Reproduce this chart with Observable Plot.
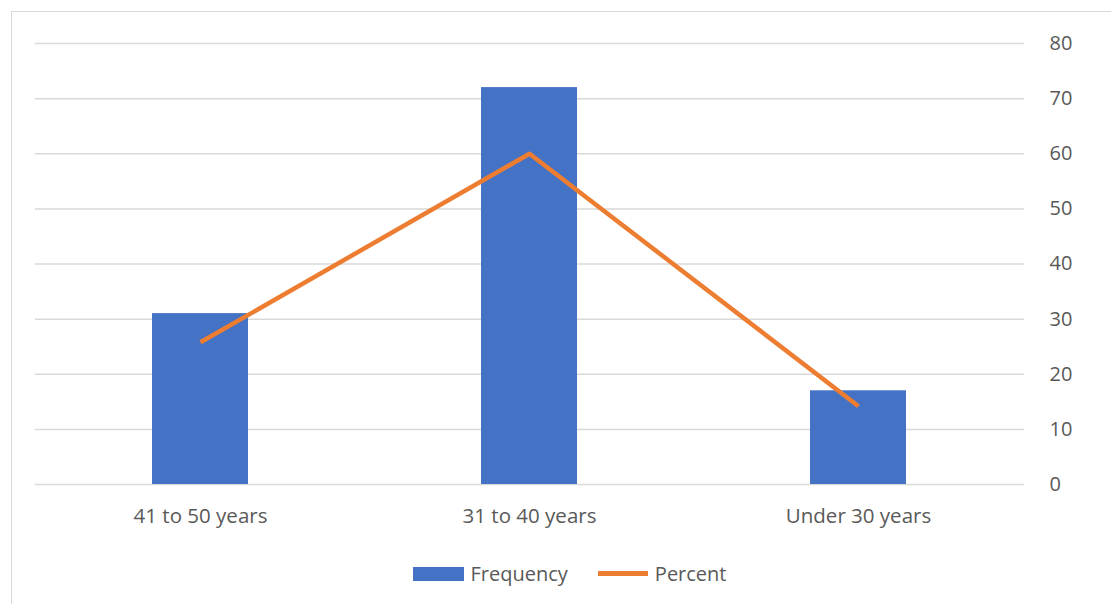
<!DOCTYPE html>
<html>
<head>
<meta charset="utf-8">
<script src="https://cdn.jsdelivr.net/npm/d3@7"></script>
<script src="https://cdn.jsdelivr.net/npm/@observablehq/plot@0.6"></script>
<style>
  html, body { margin: 0; padding: 0; background: #fff; }
  #wrap { position: relative; width: 1111px; height: 604px; overflow: hidden; font-family: "Open Sans", sans-serif; }
  #frame { position: absolute; left: 11px; top: 11px; width: 1110px; height: 620px; border: 1.5px solid #d9d9d9; box-sizing: border-box; }
  #chart { position: absolute; left: 0; top: 0; }
  #legend { position: absolute; top: 560px; left: 14px; width: 1111px; display: flex; justify-content: center; font-size: 20px; color: #595959; }
  .item { display: flex; align-items: center; margin: 0 15px; }
  .sw-bar { width: 51px; height: 14px; background: #4472C4; margin-right: 7px; }
  .sw-line { width: 50px; height: 5px; background: #ED7D31; margin-right: 7px; }
</style>
</head>
<body>
<div id="wrap">
  <div id="frame"></div>
  <div id="chart"></div>
  <div id="legend"></div>
</div>
<script>
const categories = ["41 to 50 years", "31 to 40 years", "Under 30 years"];
const frequency = [31, 72, 17];
const percent = [25.8, 60.0, 14.2];
const seriesNames = ["Frequency", "Percent"];
const yTicks = [0, 10, 20, 30, 40, 50, 60, 70, 80];

const data = categories.map((c, i) => ({ category: c, frequency: frequency[i], percent: percent[i] }));

const chart = Plot.plot({
  width: 1111,
  height: 540,
  marginLeft: 35,
  marginRight: 87,
  marginTop: 43,
  marginBottom: 56,
  style: { fontFamily: "'Open Sans', sans-serif", fontSize: "20px", color: "#595959", background: "transparent" },
  x: { domain: categories, paddingInner: 0.708, paddingOuter: 0.354, label: null, axis: null },
  y: { domain: [0, 80], label: null, axis: null },
  marks: [
    Plot.gridY(yTicks, { stroke: "#d9d9d9", strokeOpacity: 1, strokeWidth: 1.5 }),
    Plot.barY(data, { x: "category", y: "frequency", fill: "#4472C4" }),
    Plot.line(data, { x: "category", y: "percent", stroke: "#ED7D31", strokeWidth: 4.5, strokeLinecap: "butt", strokeLinejoin: "round" }),
    Plot.axisY(yTicks, { anchor: "right", tickSize: 0, tickPadding: 25, textAnchor: "start", fill: "#595959", fontSize: 20, label: null }),
    Plot.axisX({ anchor: "bottom", tickSize: 0, tickPadding: 24, fill: "#595959", fontSize: 20.5, label: null })
  ]
});
document.getElementById("chart").appendChild(chart);

const legend = document.getElementById("legend");
seriesNames.forEach((name, i) => {
  const item = document.createElement("div");
  item.className = "item";
  const sw = document.createElement("div");
  sw.className = i === 0 ? "sw-bar" : "sw-line";
  const t = document.createElement("span");
  t.textContent = name;
  item.appendChild(sw);
  item.appendChild(t);
  legend.appendChild(item);
});
</script>
</body>
</html>
